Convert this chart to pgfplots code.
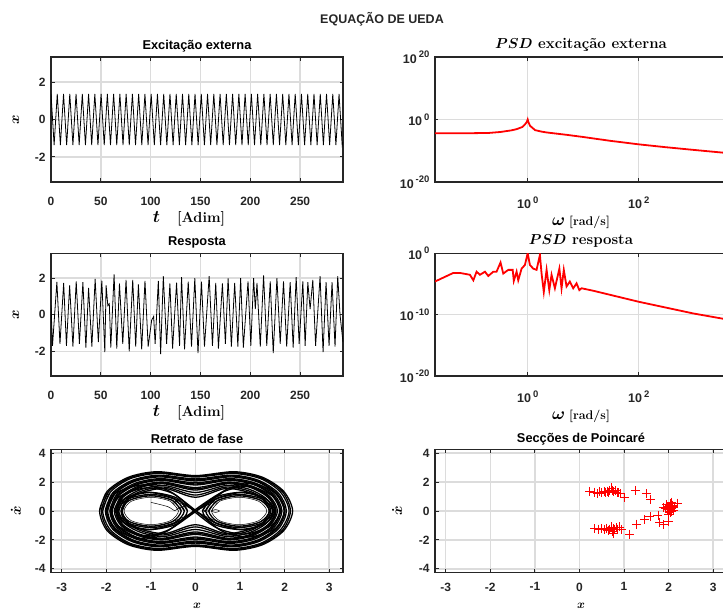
\documentclass[border=0pt]{standalone}
\usepackage{fontspec}
\usepackage{pgfplots}
\pgfplotsset{compat=1.18}
\newfontfamily\arialf{Liberation Sans}
\definecolor{dkc}{RGB}{38,38,38}
\definecolor{grc}{RGB}{220,220,220}
\newcommand{\tkf}{\arialf\bfseries\fontsize{12}{12}\selectfont}
\newcommand{\tp}[1]{{\fontsize{12.5}{12.5}\selectfont 10}\hspace{2pt}\raisebox{5.5pt}{\fontsize{9.5}{9.5}\selectfont #1}}
\newcommand{\bx}{{\fontsize{14}{14}\selectfont\boldmath$x$}}
\newcommand{\bxs}{{\fontsize{12.5}{12.5}\selectfont\boldmath$x$}}
\newcommand{\bxd}{{\fontsize{14}{14}\selectfont\boldmath$\dot{x}$}}
\newcommand{\tlab}{{\fontsize{16}{16}\selectfont\boldmath$t$}\hspace{17pt}{\fontsize{14.5}{15}\selectfont\textbf{[Adim]}}}
\newcommand{\wlab}{{\fontsize{16}{16}\selectfont\boldmath$\omega$}\hspace{4pt}{\fontsize{12.5}{13}\selectfont\textbf{[rad/s]}}}
\pgfplotsset{
  mstyle/.style={scale only axis, width=292pt,
    axis line style={line width=1.5pt, draw=dkc},
    tick style={draw=dkc, line width=0.9pt}, major tick length=3.5pt,
    grid=major, major grid style={line width=1.5pt, draw=grc},
    tick label style={font=\tkf, text=dkc},
    xticklabel style={yshift=-5pt}, yticklabel style={xshift=-2pt},
    title style={font=\arialf\bfseries\fontsize{12.8}{13}\selectfont, at={(0.5,1)}, anchor=center, yshift=4.5pt},
    xlabel style={font=\fontsize{12.5}{13}\selectfont, at={(0.5,0)}, anchor=center, yshift=-37pt},
    ylabel style={font=\fontsize{12.5}{13}\selectfont, at={(0,0.5)}, anchor=center, yshift=35pt}},
  tser/.style={mstyle, xmin=0, xmax=293, ymin=-3.35, ymax=3.35,
    xtick={0,50,100,150,200,250}, xticklabels={0,50,100,150,200,250},
    ytick={-2,0,2}, yticklabels={-2,0,2}, xticklabel style={yshift=-6.5pt},
    xlabel={\tlab}, xlabel style={xshift=-8pt}, ylabel={\bx}},
  psd/.style={mstyle, xmin=0.0214, xmax=3890,
    xtick={1,100}, xticklabels={\tp{0},\tp{2}}, xticklabel style={yshift=-6pt},
    xlabel={\wlab}, xlabel style={yshift=-3.7pt},
    title style={font=\bfseries\fontsize{15}{16}\selectfont, yshift=1.5pt}},
  phs/.style={mstyle, height=123.4pt, xmin=-3.24, xmax=3.31, ymin=-4.27, ymax=4.27,
    xtick={-3,-2,-1,0,1,2,3}, xticklabels={-3,-2,-1,0,1,2,3},
    ytick={-4,-2,0,2,4}, yticklabels={-4,-2,0,2,4}, xticklabel style={yshift=-1.5pt},
    xlabel={\bxs}, ylabel={\bxd}, xlabel style={yshift=4pt}},
  ploop/.style={black, line width=1.3pt, smooth, no markers},
  thin loop/.style={black, line width=0.5pt, smooth, no markers}
}
\begin{document}
\begin{tikzpicture}
\node[font=\arialf\bfseries\fontsize{12.5}{13}\selectfont, text=dkc] at (382pt,594pt) {EQUAÇÃO DE UEDA};
% ---------- Excitacao externa
\begin{axis}[tser, at={(51pt,431pt)}, anchor=south west, height=125pt, title={Excitação externa}]
\addplot[black, line width=0.8pt, no markers] coordinates {
(0,1.37)(3.14,-1.37)(6.28,1.37)(9.42,-1.37)(12.57,1.37)(15.71,-1.37)(18.85,1.37)(21.99,-1.37)(25.13,1.37)(28.27,-1.37)
(31.42,1.37)(34.56,-1.37)(37.70,1.37)(40.84,-1.37)(43.98,1.37)(47.12,-1.37)(50.27,1.37)(53.41,-1.37)(56.55,1.37)(59.69,-1.37)
(62.83,1.37)(65.97,-1.37)(69.12,1.37)(72.26,-1.37)(75.40,1.37)(78.54,-1.37)(81.68,1.37)(84.82,-1.37)(87.96,1.37)(91.11,-1.37)
(94.25,1.37)(97.39,-1.37)(100.53,1.37)(103.67,-1.37)(106.81,1.37)(109.96,-1.37)(113.10,1.37)(116.24,-1.37)(119.38,1.37)(122.52,-1.37)
(125.66,1.37)(128.81,-1.37)(131.95,1.37)(135.09,-1.37)(138.23,1.37)(141.37,-1.37)(144.51,1.37)(147.65,-1.37)(150.80,1.37)(153.94,-1.37)
(157.08,1.37)(160.22,-1.37)(163.36,1.37)(166.50,-1.37)(169.65,1.37)(172.79,-1.37)(175.93,1.37)(179.07,-1.37)(182.21,1.37)(185.35,-1.37)
(188.50,1.37)(191.64,-1.37)(194.78,1.37)(197.92,-1.37)(201.06,1.37)(204.20,-1.37)(207.35,1.37)(210.49,-1.37)(213.63,1.37)(216.77,-1.37)
(219.91,1.37)(223.05,-1.37)(226.19,1.37)(229.34,-1.37)(232.48,1.37)(235.62,-1.37)(238.76,1.37)(241.90,-1.37)(245.04,1.37)(248.19,-1.37)
(251.33,1.37)(254.47,-1.37)(257.61,1.37)(260.75,-1.37)(263.89,1.37)(267.04,-1.37)(270.18,1.37)(273.32,-1.37)(276.46,1.37)(279.60,-1.37)
(282.74,1.37)(285.88,-1.37)(289.03,1.37)(292.17,-1.37)(293,-1.2)};
\end{axis}
% ---------- PSD excitacao
\begin{loglogaxis}[psd, at={(435pt,431pt)}, anchor=south west, height=125pt,
  ymin=1e-20, ymax=1e20, ytick={1e-20,1,1e20}, yticklabels={\tp{-20},\tp{0},\tp{20}},
  title={{\boldmath$PSD$} excitação externa}]
\addplot[red, line width=1.8pt, no markers] coordinates {
(0.0214,3.98e-5)(0.05,3.98e-5)(0.1,4.17e-5)(0.2,5.01e-5)(0.32,1e-4)(0.5,3.16e-4)(0.63,7.94e-4)(0.8,3.98e-3)
(0.9,3.16e-2)(0.97,0.2)(1.0,1)(1.03,0.158)(1.1,1e-2)(1.36,3.98e-4)(1.8,1.26e-4)(2.2,7.08e-5)(5,1.26e-5)
(10,2.51e-6)(30,1.58e-7)(100,1.12e-8)(300,1.41e-9)(1000,1.78e-10)(4000,1.78e-11)};
\end{loglogaxis}
% ---------- Resposta
\begin{axis}[tser, at={(51pt,237pt)}, anchor=south west, height=122.7pt, title={Resposta}]
\addplot[black, line width=0.8pt, no markers] coordinates {
(0,0.5)(1.5,-1.7)(5.9,1.79)(9,-1.6)(12.7,1.73)(15.5,-1.7)(18.7,1.6)(22,-1.75)(25.3,1.82)(28.5,-1.6)
(32,1.77)(35,-1.8)(37.7,1.46)(41,-1.75)(44.3,1.95)(47.5,-1.5)(51,1.86)(54,-2.05)(55.3,1.6)(57,0.5)
(58.5,0.6)(60,-1.8)(63.3,2.2)(66,-1.85)(68.7,1.7)(72,-1.6)(75.3,1.9)(78.5,-2.0)(82,1.9)(85,-1.75)
(87.7,1.65)(91,-1.9)(94.3,1.85)(97.5,-1.75)(101,-0.3)(103,-0.1)(104.5,-1.6)(107.7,1.85)(110,-2.15)(112.7,2.1)
(116,-1.6)(119.3,1.7)(122,-1.85)(126,1.75)(129,-1.7)(131,2.05)(134,-1.9)(137.7,1.8)(141,-1.75)(144.3,2.0)
(147.5,-2.1)(151,1.8)(154,-1.75)(158.7,2.1)(162,-1.7)(165.3,1.73)(168,-1.85)(172,1.7)(175,-1.6)(177.7,1.98)
(181,-1.75)(184.3,1.73)(187.5,-1.75)(190.3,2.0)(193,-1.8)(197.7,1.82)(200.5,-1.7)(203.3,2.0)(205,0.3)(206.7,1.73)
(210,-1.75)(213.3,2.14)(216.5,-1.7)(220,1.82)(223,-2.1)(226.7,2.0)(230,-1.6)(233.3,1.82)(236.5,-1.75)(240,1.77)
(243,-1.8)(246,2.05)(249,-1.6)(252.7,1.82)(255,-1.7)(257.7,1.77)(260,0.3)(262.7,1.9)(265.5,-1.7)(270,2.1)
(273,-2.05)(276,1.77)(279,-1.7)(282,1.77)(285,-1.75)(287.7,2.1)(290,0)(293,-1.5)};
\end{axis}
% ---------- PSD resposta
\begin{loglogaxis}[psd, at={(435pt,237pt)}, anchor=south west, height=122.7pt,
  ymin=1e-20, ymax=1, ytick={1e-20,1e-10,1}, yticklabels={\tp{-20},\tp{-10},\tp{0}},
  title={{\boldmath$PSD$} resposta}]
\addplot[red, line width=1.8pt, no markers] coordinates {
(0.0214,2.51e-5)(0.0457,6.31e-4)(0.060,6.31e-4)(0.091,3.16e-4)(0.105,3.98e-5)(0.120,1e-3)(0.138,3.16e-4)
(0.170,1e-3)(0.195,2e-4)(0.240,1e-3)(0.275,1e-3)(0.324,3.16e-2)(0.363,5.01e-4)(0.447,2e-3)(0.537,2e-3)
(0.562,3.16e-5)(0.631,1e-3)(0.676,3.98e-5)(0.776,3.16e-3)(0.891,1.26e-2)(1.0,1)(1.096,1.26e-2)(1.259,3.16e-3)
(1.445,2e-3)(1.66,0.54)(1.778,5.01e-4)(1.95,5.01e-7)(2.19,2e-3)(2.45,1e-6)(2.69,3.16e-4)(3.09,2e-6)
(3.72,3.16e-3)(4.07,2e-6)(4.47,2e-3)(5.01,3.98e-6)(5.75,2.51e-5)(6.61,2e-6)(7.59,1.26e-5)(8.51,1e-6)
(9.33,2e-6)(15.1,7.94e-7)(100,1.26e-8)(955,1.58e-10)(4000,1.58e-11)};
\end{loglogaxis}
% ---------- Retrato de fase
\begin{axis}[phs, at={(51pt,40.3pt)}, anchor=south west, title={Retrato de fase}]
\addplot[ploop] coordinates {(-2.15,0)(-1.98,1.36)(-1.5,2.34)(-0.86,2.72)(0,2.45)(0.86,2.72)(1.5,2.34)(1.98,1.36)(2.18,0)(1.98,-1.36)(1.5,-2.34)(0.86,-2.72)(0,-2.45)(-0.86,-2.72)(-1.5,-2.34)(-1.98,-1.36)(-2.15,0)(-1.98,1.36)};
\addplot[ploop] coordinates {(-2.08,0)(-1.91,1.3)(-1.46,2.24)(-0.83,2.6)(0,2.35)(0.83,2.6)(1.46,2.24)(1.91,1.3)(2.1,0)(1.91,-1.3)(1.46,-2.24)(0.83,-2.6)(0,-2.35)(-0.83,-2.6)(-1.46,-2.24)(-1.91,-1.3)(-2.08,0)(-1.91,1.3)};
\addplot[ploop] coordinates {(-2.02,0)(-1.86,1.24)(-1.41,2.13)(-0.81,2.48)(0,2.22)(0.81,2.48)(1.41,2.13)(1.86,1.24)(2.04,0)(1.86,-1.24)(1.41,-2.13)(0.81,-2.48)(0,-2.22)(-0.81,-2.48)(-1.41,-2.13)(-1.86,-1.24)(-2.02,0)(-1.86,1.24)};
\addplot[ploop] coordinates {(-1.97,0)(-1.81,1.18)(-1.38,2.03)(-0.79,2.36)(0,2.08)(0.79,2.36)(1.38,2.03)(1.81,1.18)(1.99,0)(1.81,-1.18)(1.38,-2.03)(0.79,-2.36)(0,-2.08)(-0.79,-2.36)(-1.38,-2.03)(-1.81,-1.18)(-1.97,0)(-1.81,1.18)};
\addplot[ploop] coordinates {(-1.92,0)(-1.77,1.12)(-1.34,1.93)(-0.77,2.24)(0,1.95)(0.77,2.24)(1.34,1.93)(1.77,1.12)(1.94,0)(1.77,-1.12)(1.34,-1.93)(0.77,-2.24)(0,-1.95)(-0.77,-2.24)(-1.34,-1.93)(-1.77,-1.12)(-1.92,0)(-1.77,1.12)};
\addplot[ploop] coordinates {(-1.87,0)(-1.72,1.06)(-1.31,1.82)(-0.75,2.12)(0,1.8)(0.75,2.12)(1.31,1.82)(1.72,1.06)(1.89,0)(1.72,-1.06)(1.31,-1.82)(0.75,-2.12)(0,-1.8)(-0.75,-2.12)(-1.31,-1.82)(-1.72,-1.06)(-1.87,0)(-1.72,1.06)};
\addplot[ploop] coordinates {(-1.82,0)(-1.67,1.0)(-1.27,1.72)(-0.73,2.0)(0,1.62)(0.73,2.0)(1.27,1.72)(1.67,1.0)(1.84,0)(1.67,-1.0)(1.27,-1.72)(0.73,-2.0)(0,-1.62)(-0.73,-2.0)(-1.27,-1.72)(-1.67,-1.0)(-1.82,0)(-1.67,1.0)};
\addplot[ploop] coordinates {(-1.77,0)(-1.63,0.94)(-1.24,1.62)(-0.71,1.88)(0,1.45)(0.71,1.88)(1.24,1.62)(1.63,0.94)(1.79,0)(1.63,-0.94)(1.24,-1.62)(0.71,-1.88)(0,-1.45)(-0.71,-1.88)(-1.24,-1.62)(-1.63,-0.94)(-1.77,0)(-1.63,0.94)};
\addplot[ploop] coordinates {(-1.72,0)(-1.58,0.88)(-1.2,1.51)(-0.69,1.76)(0,1.28)(0.69,1.76)(1.2,1.51)(1.58,0.88)(1.74,0)(1.58,-0.88)(1.2,-1.51)(0.69,-1.76)(0,-1.28)(-0.69,-1.76)(-1.2,-1.51)(-1.58,-0.88)(-1.72,0)(-1.58,0.88)};
\addplot[ploop] coordinates {(-1.67,0)(-1.54,0.83)(-1.17,1.42)(-0.67,1.65)(0,1.1)(0.67,1.65)(1.17,1.42)(1.54,0.83)(1.69,0)(1.54,-0.83)(1.17,-1.42)(0.67,-1.65)(0,-1.1)(-0.67,-1.65)(-1.17,-1.42)(-1.54,-0.83)(-1.67,0)(-1.54,0.83)};
\addplot[ploop] coordinates {(-1.64,0)(-1.51,0.8)(-1.15,1.33)(-0.66,1.55)(0,0.95)(0.66,1.55)(1.15,1.33)(1.51,0.8)(1.66,0)(1.51,-0.8)(1.15,-1.33)(0.66,-1.55)(0,-0.95)(-0.66,-1.55)(-1.15,-1.33)(-1.51,-0.8)(-1.64,0)(-1.51,0.8)};
\addplot[ploop] coordinates {(-2.11,0)(-1.95,1.33)(-1.48,2.29)(-0.85,2.66)(0,2.4)(0.85,2.66)(1.48,2.29)(1.95,1.33)(2.13,0)(1.95,-1.33)(1.48,-2.29)(0.85,-2.66)(0,-2.4)(-0.85,-2.66)(-1.48,-2.29)(-1.95,-1.33)(-2.11,0)(-1.95,1.33)};
\addplot[ploop] coordinates {(-1.99,0)(-1.83,1.21)(-1.39,2.08)(-0.8,2.42)(0,2.15)(0.8,2.42)(1.39,2.08)(1.83,1.21)(2.01,0)(1.83,-1.21)(1.39,-2.08)(0.8,-2.42)(0,-2.15)(-0.8,-2.42)(-1.39,-2.08)(-1.83,-1.21)(-1.99,0)(-1.83,1.21)};
\addplot[ploop] coordinates {(-1.89,0)(-1.74,1.09)(-1.32,1.87)(-0.76,2.18)(0,1.87)(0.76,2.18)(1.32,1.87)(1.74,1.09)(1.91,0)(1.74,-1.09)(1.32,-1.87)(0.76,-2.18)(0,-1.87)(-0.76,-2.18)(-1.32,-1.87)(-1.74,-1.09)(-1.89,0)(-1.74,1.09)};
\addplot[ploop] coordinates {(-1.79,0)(-1.65,0.97)(-1.25,1.67)(-0.72,1.94)(0,1.53)(0.72,1.94)(1.25,1.67)(1.65,0.97)(1.81,0)(1.65,-0.97)(1.25,-1.67)(0.72,-1.94)(0,-1.53)(-0.72,-1.94)(-1.25,-1.67)(-1.65,-0.97)(-1.79,0)(-1.65,0.97)};
\addplot[ploop] coordinates {(0,0)(0.5,0.9)(1.1,1.3)(1.6,0.8)(1.75,0)(1.6,-0.8)(1.1,-1.3)(0.5,-0.9)(0,0)(-0.5,0.9)(-1.1,1.3)(-1.6,0.8)(-1.75,0)(-1.6,-0.8)(-1.1,-1.3)(-0.5,-0.9)(0,0)(0.5,0.9)};
\addplot[ploop] coordinates {(0,0.1)(0.6,1.3)(1.2,1.7)(1.75,1.0)(1.9,0)(1.7,-1.0)(1.1,-1.6)(0.5,-1.2)(0,-0.1)(-0.5,1.2)(-1.1,1.6)(-1.7,1.0)(-1.9,0)(-1.75,-1.0)(-1.2,-1.7)(-0.6,-1.3)(0,0.1)(0.6,1.3)};
\addplot[thin loop] coordinates {(0,0)(0.4,0.6)(1.0,1.1)(1.5,0.7)(1.65,0)(1.5,-0.7)(1.0,-1.1)(0.4,-0.6)(0,0)(-0.4,0.6)(-1.0,1.1)(-1.5,0.7)(-1.65,0)(-1.5,-0.7)(-1.0,-1.1)(-0.4,-0.6)(0,0)(0.4,0.6)};
\addplot[ploop] coordinates {(0,-0.05)(0.7,1.5)(1.3,1.9)(1.8,1.2)(2.0,0)(1.8,-1.2)(1.2,-1.8)(0.6,-1.4)(0,0.05)(-0.6,1.4)(-1.2,1.8)(-1.8,1.2)(-2.0,0)(-1.8,-1.2)(-1.3,-1.9)(-0.7,-1.5)(0,-0.05)(0.7,1.5)};
\addplot[thin loop] coordinates {(0.36,0)(0.54,0.67)(0.98,0.95)(1.42,0.67)(1.6,0)(1.42,-0.67)(0.98,-0.95)(0.54,-0.67)(0.36,0)(0.54,0.67)};
\addplot[ploop] coordinates {(0.3,0)(0.5,0.74)(0.98,1.05)(1.46,0.74)(1.66,0)(1.46,-0.74)(0.98,-1.05)(0.5,-0.74)(0.3,0)(0.5,0.74)};
\addplot[ploop] coordinates {(0.23,0)(0.45,0.81)(0.98,1.15)(1.51,0.81)(1.73,0)(1.51,-0.81)(0.98,-1.15)(0.45,-0.81)(0.23,0)(0.45,0.81)};
\addplot[ploop] coordinates {(0.16,0)(0.4,0.9)(0.98,1.28)(1.55,0.9)(1.78,0)(1.55,-0.9)(0.98,-1.28)(0.4,-0.9)(0.16,0)(0.4,0.9)};
\addplot[thin loop] coordinates {(-0.38,0)(-0.56,0.67)(-1.0,0.95)(-1.44,0.67)(-1.6,0)(-1.44,-0.67)(-1.0,-0.95)(-0.56,-0.67)(-0.38,0)(-0.56,0.67)};
\addplot[ploop] coordinates {(-0.32,0)(-0.52,0.74)(-1.0,1.05)(-1.48,0.74)(-1.66,0)(-1.48,-0.74)(-1.0,-1.05)(-0.52,-0.74)(-0.32,0)(-0.52,0.74)};
\addplot[ploop] coordinates {(-0.25,0)(-0.47,0.81)(-1.0,1.15)(-1.53,0.81)(-1.73,0)(-1.53,-0.81)(-1.0,-1.15)(-0.47,-0.81)(-0.25,0)(-0.47,0.81)};
\addplot[ploop] coordinates {(-0.18,0)(-0.42,0.9)(-1.0,1.28)(-1.57,0.9)(-1.78,0)(-1.57,-0.9)(-1.0,-1.28)(-0.42,-0.9)(-0.18,0)(-0.42,0.9)};
\addplot[thin loop] coordinates {(0.36,0)(0.45,0.1)(0.54,0)(0.45,-0.1)(0.36,0)(0.45,0.1)};
\addplot[thin loop] coordinates {(0.18,0)(0.25,0.08)(0.32,0)(0.25,-0.08)(0.18,0)};
\addplot[thin loop] coordinates {(-1.0,0.6)(-0.62,0.3)(-0.47,0.02)(-0.4,0.15)(-0.15,0.45)};
\end{axis}
% ---------- Poincare
\begin{axis}[phs, at={(435pt,40.3pt)}, anchor=south west, title={Secções de Poincaré}, ylabel style={yshift=3pt}]
\addplot[only marks, red, mark=+, mark size=4.5pt, line width=0.7pt] coordinates {
(0.23,1.35)(0.34,1.3)(0.40,1.2)(0.45,1.32)(0.49,1.25)(0.55,1.35)(0.58,1.28)(0.62,1.38)(0.65,1.3)(0.68,1.42)
(0.72,1.6)(0.74,1.45)(0.77,1.33)(0.80,1.4)(0.84,1.3)(0.88,1.25)(0.92,1.2)(1.01,0.95)(1.25,1.43)(1.5,1.19)(1.6,0.81)
(1.88,0.25)(1.93,0.2)(1.96,0.45)(2.0,0.3)(2.02,0.1)(2.04,0.5)(2.06,0.2)(2.07,-0.05)(2.09,0.35)(2.1,0.05)
(2.12,0.25)(2.03,-0.12)(2.2,0.55)(1.97,0.12)(2.06,0.62)(2.0,-0.2)(2.08,0.4)(2.05,0.0)
(1.99,-0.7)(1.88,-0.95)(1.76,-0.3)(1.8,-0.8)(1.58,-0.4)(1.46,-0.6)(1.28,-0.9)(1.13,-1.6)
(0.34,-1.22)(0.43,-1.25)(0.5,-1.2)(0.55,-1.3)(0.6,-1.18)(0.64,-1.35)(0.68,-1.25)(0.72,-1.1)(0.74,-1.4)(0.76,-1.2)
(0.79,-1.3)(0.82,-1.15)(0.86,-1.25)(0.9,-1.1)(0.95,-1.28)(0.75,-1.55)};
\end{axis}
\pgfresetboundingbox
\path[use as bounding box] (0,0) rectangle (723pt,613pt);
\end{tikzpicture}
\end{document}
